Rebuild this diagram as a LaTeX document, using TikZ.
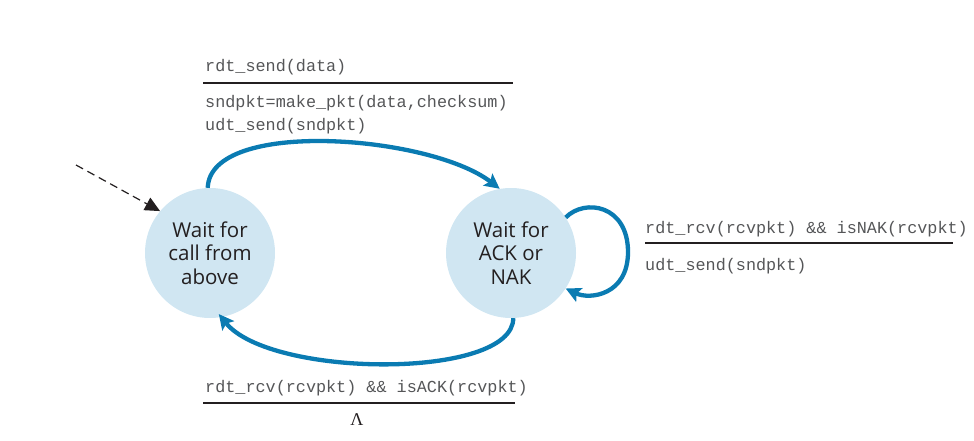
\documentclass[tikz,border=0pt]{standalone}
\usepackage{fontspec}
\setmonofont{Liberation Mono}
\newfontfamily\statefont{Open Sans}
\newfontfamily\greekserif{Liberation Serif}
\usetikzlibrary{arrows.meta}
\definecolor{statefill}{HTML}{D0E6F2}
\definecolor{flowblue}{HTML}{0A7BB2}
\definecolor{inktext}{HTML}{231F20}
\definecolor{codegray}{HTML}{555658}
\begin{document}
\begin{tikzpicture}[x=1pt,y=-1pt,
  state/.style={circle,fill=statefill,minimum size=130pt,inner sep=0pt,
    align=center,text=inktext,font=\statefont\fontsize{20.5}{23.5}\selectfont},
  trans/.style={draw=flowblue,line width=4.3pt,
    -{Stealth[length=15pt,width=15pt,inset=3pt]}},
  initarrow/.style={draw=inktext,line width=1.2pt,dash pattern=on 8pt off 5pt,
    -{Triangle[length=15pt,width=14pt]}},
  code/.style={inner sep=0pt,anchor=base west,text=codegray,
    font=\ttfamily\fontsize{16.8}{20}\selectfont},
  rule/.style={draw=inktext,line width=1.1pt}]
\useasboundingbox (0,0) rectangle (974,441);

% states
\node[state] (wcall) at (210,253) {Wait for\\call from\\above};
\node[state] (wack)  at (511,253) {Wait for\\ACK or\\NAK};

% initial transition
\coordinate (init) at (76,165);
\draw[initarrow] (init) -- (wcall.140);

% rdt_send: wait for call -> wait for ACK/NAK
\draw[trans] (wcall.92) .. controls (210,118) and (430,135) .. (wack.100);

% ACK received: back to wait for call
\draw[trans, shorten >=-4pt] (wack.-88) .. controls (513,380) and (270,378) .. (wcall.-80);

% NAK received: self loop
\coordinate (loopR) at (628,252);
\draw[trans] (wack.33) .. controls (585,198) and (628,205) .. (loopR)
  .. controls (628,295) and (590,300) .. (wack.-33);

% top label
\node[code] (sendev) at (205,72) {rdt\_send(data)};
\coordinate (topL) at (203,83);
\coordinate (topR) at (513,83);
\draw[rule] (topL) -- (topR);
\node[code] (sendact1) at (205,108) {sndpkt=make\_pkt(data,checksum)};
\node[code] (sendact2) at (205,131) {udt\_send(sndpkt)};

% right label
\node[code] (nakev) at (645,233) {rdt\_rcv(rcvpkt) \&\& isNAK(rcvpkt)};
\coordinate (nakL) at (645,243);
\coordinate (nakR) at (953,243);
\draw[rule] (nakL) -- (nakR);
\node[code] (nakact) at (645,270) {udt\_send(sndpkt)};

% bottom label
\node[code] (ackev) at (205,392) {rdt\_rcv(rcvpkt) \&\& isACK(rcvpkt)};
\coordinate (botL) at (203,403);
\coordinate (botR) at (515,403);
\draw[rule] (botL) -- (botR);
\node[inner sep=0pt,anchor=base,text=inktext,font=\greekserif\fontsize{18}{20}\selectfont] (ackact) at (357,425) {Λ};
\end{tikzpicture}
\end{document}
